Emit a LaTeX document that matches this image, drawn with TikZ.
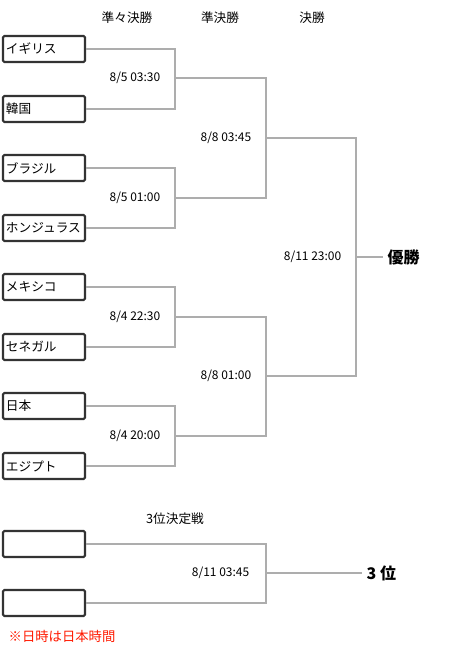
\documentclass[tikz,border=0pt]{standalone}
\usepackage{fontspec}
\setmainfont{Noto Sans CJK JP}
\usepackage{tikz}

\tikzset{
	team/.style={draw=black!80,line width=1.6pt,rounded corners=1pt,minimum width=61.5pt,minimum height=19.5pt,inner sep=2pt,text width=57pt,align=left,font=\fontsize{9.5}{11}\selectfont},
	line/.style={draw=black!32,line width=1.5pt},
	date/.style={anchor=east,font=\fontsize{9}{11}\selectfont},
	head/.style={font=\fontsize{9.5}{11}\selectfont},
	win/.style={anchor=west,font=\fontsize{12}{14}\selectfont\bfseries}
}

\begin{document}
\begin{tikzpicture}[x=0.75pt,y=-0.75pt]
	\useasboundingbox (0,0) rectangle (453,652);

	% Nodes start here
	\node (h1) at (127,18) [head] {準々決勝};
	\node (h2) at (220,18) [head] {準決勝};
	\node (h3) at (312,18) [head] {決勝};
	\node (h4) at (175,519) [head] {3位決定戦};

	\node (gb) at (44,49) [team] {イギリス};
	\node (kr) at (44,109) [team] {韓国};
	\node (br) at (44,168) [team] {ブラジル};
	\node (hn) at (44,228) [team] {ホンジュラス};
	\node (mx) at (44,287) [team] {メキシコ};
	\node (sn) at (44,347) [team] {セネガル};
	\node (jp) at (44,406) [team] {日本};
	\node (eg) at (44,466) [team] {エジプト};
	\node (t1) at (44,544) [team] {};
	\node (t2) at (44,603) [team] {};

	\coordinate (q1) at (175,78);
	\coordinate (q2) at (175,198);
	\coordinate (q3) at (175,317);
	\coordinate (q4) at (175,436);
	\coordinate (s1) at (266,138);
	\coordinate (s2) at (266,376);
	\coordinate (f) at (356,257);
	\coordinate (t) at (266,573);

	\node (d1) at ([xshift=-7.5pt]q1) [date] {8/5 03:30};
	\node (d2) at ([xshift=-7.5pt]q2) [date] {8/5 01:00};
	\node (d3) at ([xshift=-7.5pt]q3) [date] {8/4 22:30};
	\node (d4) at ([xshift=-7.5pt]q4) [date] {8/4 20:00};
	\node (d5) at ([xshift=-7.5pt]s1) [date] {8/8 03:45};
	\node (d6) at ([xshift=-7.5pt]s2) [date] {8/8 01:00};
	\node (d7) at ([xshift=-7.5pt]f) [date] {8/11 23:00};
	\node (d8) at ([xshift=-9pt]t) [date] {8/11 03:45};

	\node (champ) at (383,257) [win] {優勝};
	\node (third) at (362,573) [win] {3 位};

	\node (note) at (4,636) [anchor=west,text=red!80!orange,font=\fontsize{10}{12}\selectfont] {※日時は日本時間};

	% Lines start here
	\draw[line] (gb.east) -| (q1) |- (kr.east);
	\draw[line] (br.east) -| (q2) |- (hn.east);
	\draw[line] (mx.east) -| (q3) |- (sn.east);
	\draw[line] (jp.east) -| (q4) |- (eg.east);
	\draw[line] (q1) -| (s1) |- (q2);
	\draw[line] (q3) -| (s2) |- (q4);
	\draw[line] (s1) -| (f) |- (s2);
	\draw[line] (f) -- (champ.west);
	\draw[line] (t1.east) -| (t) |- (t2.east);
	\draw[line] (t) -- (third.west);

\end{tikzpicture}
\end{document}
